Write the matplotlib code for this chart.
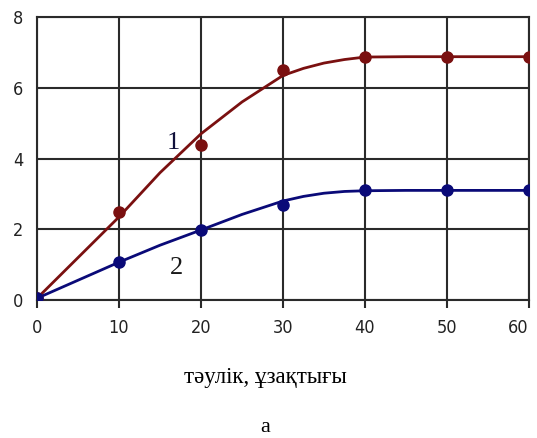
import os
import matplotlib
matplotlib.use("Agg")
import matplotlib.pyplot as plt
from matplotlib import font_manager

# measured points
days = [0, 10, 20, 30, 40, 50, 60]
series1 = [0.05, 2.5, 4.38, 6.5, 6.88, 6.88, 6.88]
series2 = [0.05, 1.07, 1.98, 2.7, 3.1, 3.1, 3.1]

# smoothed curves
curve_x = [0, 5, 10, 15, 20, 25, 30, 32.5, 35, 37.5, 40, 45, 50, 55, 60]
curve1 = [0.05, 1.2, 2.35, 3.6, 4.7, 5.6, 6.35, 6.55, 6.7, 6.8, 6.87, 6.88, 6.88, 6.88, 6.88]
curve2 = [0.05, 0.56, 1.07, 1.55, 1.98, 2.42, 2.8, 2.93, 3.02, 3.07, 3.09, 3.1, 3.1, 3.1, 3.1]

xticks = [0, 10, 20, 30, 40, 50, 60]
yticks = [0, 2, 4, 6, 8]

red = "#7a1010"
blue = "#0a0a78"
grid_c = "#2a2a2a"

# pick a regular condensed sans for the tick numbers
wanted = ["dejavusanscondensed.ttf", "liberationsansnarrow-regular.ttf",
          "robotocondensed-regular.ttf"]
fonts = {os.path.basename(f).lower(): f for f in font_manager.findSystemFonts()}
cond_file = next((fonts[w] for w in wanted if w in fonts), None)
if cond_file:
    tick_font = font_manager.FontProperties(fname=cond_file, size=13)
else:
    tick_font = font_manager.FontProperties(family="DejaVu Sans", size=12)

fig = plt.figure(figsize=(5.37, 4.38), dpi=100)
ax = fig.add_axes([0.069, 0.315, 0.916, 0.646])

ax.plot(curve_x, curve1, color=red, lw=2, zorder=3)
ax.plot(curve_x, curve2, color=blue, lw=2, zorder=3)
ax.plot(days, series1, "o", color=red, ms=8, zorder=4)
ax.plot(days, series2, "o", color=blue, ms=8, zorder=4)

ax.text(16.6, 4.43, "1", fontsize=19, family="Liberation Serif",
        color="#10103a", ha="center", va="center")
ax.text(17.0, 0.9, "2", fontsize=19, family="Liberation Serif",
        color="#1a1a1a", ha="center", va="center")

ax.set_xlim(0, 60)
ax.set_ylim(0, 8)
ax.set_xticks(xticks)
ax.set_yticks(yticks)
ax.grid(True, color=grid_c, lw=1.5)
ax.set_axisbelow(True)
for s in ax.spines.values():
    s.set_color(grid_c)
    s.set_linewidth(1.5)
ax.tick_params(axis="x", length=6, width=1.5, color=grid_c, pad=8)
ax.tick_params(axis="y", length=0, pad=10)
for lab in ax.get_xticklabels() + ax.get_yticklabels():
    lab.set_fontproperties(tick_font)
    lab.set_color("#222222")
# keep the last x label inside the picture
ax.get_xticklabels()[-1].set_horizontalalignment("right")

fig.text(0.494, 0.137, "тәулік, ұзақтығы", fontsize=16.5,
         family="Liberation Serif", ha="center", va="center")
fig.text(0.494, 0.025, "а", fontsize=16,
         family="Liberation Serif", ha="center", va="center")

fig.savefig("out.png", dpi=100)
